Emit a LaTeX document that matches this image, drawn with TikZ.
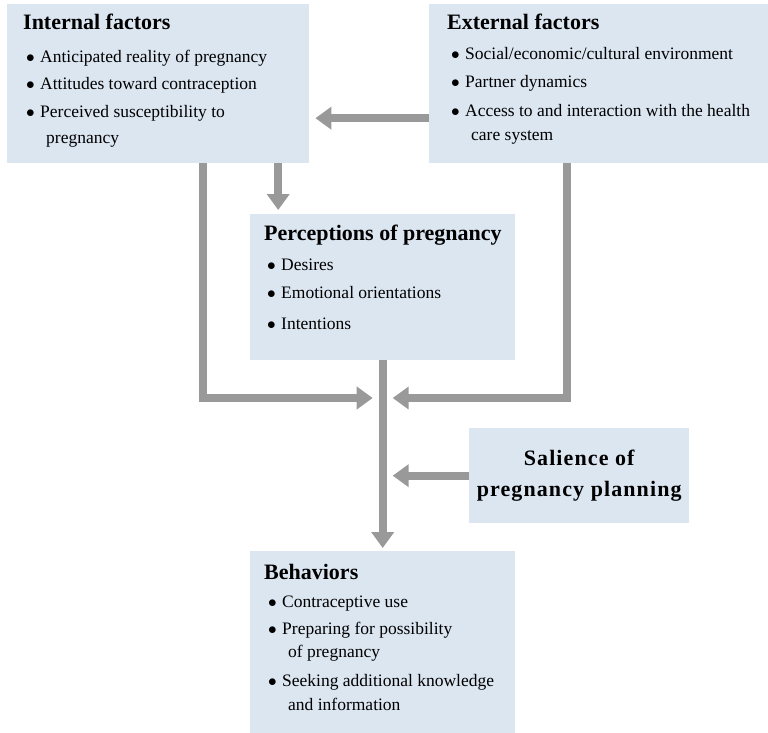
\documentclass[tikz,border=0pt]{standalone}
\usepackage{fontspec}
\setmainfont{Liberation Serif}
\usetikzlibrary{arrows.meta}
\definecolor{boxblue}{HTML}{DCE6F1}
\definecolor{arrowgray}{HTML}{999999}
\tikzstyle{box} = [rectangle, fill=boxblue, anchor=north west, inner sep=0pt, align=center]
\tikzstyle{heading} = [anchor=base west, inner sep=0pt, font=\fontsize{22}{24}\selectfont\bfseries]
\tikzstyle{list} = [anchor=base west, inner sep=0pt, align=left, font=\fontsize{17.5}{23.5}\selectfont]
\tikzstyle{arrow} = [line width=8pt, draw=arrowgray, -{Triangle[width=22pt,length=16pt]}]
\newcommand{\itm}[1]{\makebox[14pt][l]{$\bullet$}#1}
\newcommand{\cnt}[1]{\hspace*{20pt}#1}

\begin{document}
\begin{tikzpicture}[x=1pt, y=1pt]
\useasboundingbox (0,0) rectangle (768,-733);

\node (internal) [box, minimum width=302pt, minimum height=159pt] at (7,-4) {};
\node (external) [box, minimum width=339pt, minimum height=159pt] at (429,-4) {};
\node (perceptions) [box, minimum width=265pt, minimum height=146pt] at (250,-214) {};
\node (salience) [box, minimum width=220pt, minimum height=95pt, font=\fontsize{22}{31}\selectfont\bfseries\addfontfeature{LetterSpace=5}] at (469,-428) {Salience of\\pregnancy planning};
\node (behaviors) [box, minimum width=265pt, minimum height=182pt] at (250,-551) {};

% list nodes sit on the baseline of their last line
\node (internalTitle) [heading] at ([shift={(16pt,-26pt)}]internal.north west) {Internal factors};
\node (internalList) [list] at ([shift={(19pt,-139pt)}]internal.north west) {\itm{Anticipated reality of pregnancy}\\[3.5pt]
  \itm{Attitudes toward contraception}\\[4.5pt]
  \itm{Perceived susceptibility to}\\[2.5pt]
  \cnt{pregnancy}};

\node (externalTitle) [heading] at ([shift={(18pt,-26pt)}]external.north west) {External factors};
\node (externalList) [list] at ([shift={(22pt,-136pt)}]external.north west) {\itm{Social/economic/cultural environment}\\[4.5pt]
  \itm{Partner dynamics}\\[5.5pt]
  \itm{Access to and interaction with the health}\\
  \cnt{care system}};

\node (perceptionsTitle) [heading] at ([shift={(14pt,-26pt)}]perceptions.north west) {Perceptions of pregnancy};
\node (perceptionsList) [list] at ([shift={(17pt,-115pt)}]perceptions.north west) {\itm{Desires}\\[4.5pt]
  \itm{Emotional orientations}\\[7.5pt]
  \itm{Intentions}};

\node (behaviorsTitle) [heading] at ([shift={(14pt,-28pt)}]behaviors.north west) {Behaviors};
\node (behaviorsList) [list] at ([shift={(18pt,-159pt)}]behaviors.north west) {\itm{Contraceptive use}\\[3.5pt]
  \itm{Preparing for possibility}\\
  \cnt{of pregnancy}\\[5.5pt]
  \itm{Seeking additional knowledge}\\
  \cnt{and information}};

\coordinate (join) at (perceptions.south |- 0,-398);

\draw [arrow] ([yshift=-34.5pt]external.west) -- ([xshift=6pt,yshift=-34.5pt]internal.east);
\draw [arrow, shorten >=4pt] ([xshift=120pt]internal.south) -- ([xshift=120pt]internal.south |- perceptions.north);
\draw [arrow] ([xshift=45pt]internal.south) |- ([xshift=-10pt]join);
\draw [arrow] ([xshift=-31.5pt]external.south) |- ([xshift=10pt]join);
\draw [arrow, shorten >=3pt] (perceptions.south) -- (behaviors.north);
\draw [arrow] (salience.west) -- ([xshift=10pt]join |- salience.west);

\end{tikzpicture}
\end{document}
